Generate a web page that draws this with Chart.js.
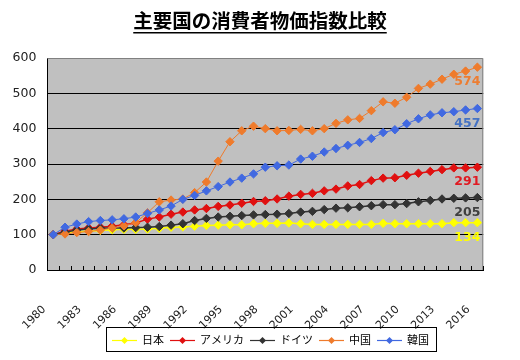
<!DOCTYPE html>
<html>
<head>
<meta charset="utf-8">
<script src="https://cdn.jsdelivr.net/npm/chart.js@4.4.1/dist/chart.umd.min.js"></script>
<style>
  html, body { margin: 0; padding: 0; background: #fff; }
</style>
</head>
<body>
<canvas id="chart" width="520" height="360"></canvas>
<script>
const years = ["1980","1981","1982","1983","1984","1985","1986","1987","1988","1989",
  "1990","1991","1992","1993","1994","1995","1996","1997","1998","1999",
  "2000","2001","2002","2003","2004","2005","2006","2007","2008","2009",
  "2010","2011","2012","2013","2014","2015","2016"];

const japan   = [100,105,108,110,112,114,115,115,116,118,121,122,124,126,127,128,128,131,132,132,
                 133,131,129,129,129,129,129,129,132,131,131,131,131,131,134,134,134];
const usa     = [100,110,116,119,121,124,128,133,144,150,158,164,170,174,180,184,189,194,196,201,
                 209,214,217,224,229,238,242,253,260,261,268,274,279,284,289,289,291];
const germany = [100,107,113,116,118,119,119,120,121,123,127,131,140,146,150,152,154,156,157,158,
                 160,164,166,171,175,176,179,182,185,185,188,193,197,201,203,204,205];
const china   = [100,102,106,109,113,119,125,134,162,193,198,201,219,249,308,363,394,407,400,394,
                 395,398,394,400,415,425,429,451,476,472,489,514,526,540,554,563,574];
const korea   = [100,121,130,137,140,142,145,150,160,170,181,200,211,224,236,249,260,272,291,295,
                 297,314,322,334,344,353,361,372,389,397,414,428,439,445,448,453,457];

const seriesNames = ["日本", "アメリカ", "ドイツ", "中国", "韓国"];
const yTicks = [0, 100, 200, 300, 400, 500, 600];

const colors = ["#ffff00", "#e01010", "#333333", "#ef7b2c", "#4169e1"];
const labelColors = ["#ffff00", "#e01a22", "#404040", "#ed7d31", "#4472c4"];

function makeSet(i, data, width) {
  return {
    label: seriesNames[i],
    data: data,
    borderColor: colors[i],
    backgroundColor: colors[i],
    borderWidth: width,
    pointStyle: "rectRot",
    pointRadius: 4.2,
    pointBorderWidth: 1,
    pointBorderColor: colors[i],
    pointBackgroundColor: colors[i],
    tension: 0,
    order: 5 - i
  };
}

// 灰色の背景とプロット枠
const plotBg = {
  id: "plotBg",
  beforeDraw(chart) {
    const a = chart.chartArea, ctx = chart.ctx;
    ctx.save();
    ctx.fillStyle = "#c0c0c0";
    ctx.fillRect(a.left, a.top, a.right - a.left, a.bottom - a.top);
    ctx.restore();
  },
  afterDraw(chart) {
    const a = chart.chartArea, ctx = chart.ctx;
    const x = chart.scales.x;
    ctx.save();
    ctx.strokeStyle = "#808080";
    ctx.lineWidth = 1;
    ctx.beginPath();
    ctx.moveTo(a.left, a.top + 0.5);
    ctx.lineTo(a.right - 0.5, a.top + 0.5);
    ctx.lineTo(a.right - 0.5, a.bottom);
    ctx.stroke();
    // 内向きの目盛り
    ctx.strokeStyle = "#000";
    ctx.beginPath();
    const half = (x.getPixelForValue(1) - x.getPixelForValue(0)) / 2;
    for (let i = 0; i <= years.length; i++) {
      const px = Math.round(x.getPixelForValue(i) - half) + 0.5;
      ctx.moveTo(px, a.bottom);
      ctx.lineTo(px, a.bottom - 4);
    }
    ctx.stroke();
    ctx.restore();
  }
};

// タイトル（下線付き）
const titlePlugin = {
  id: "titleU",
  afterDraw(chart) {
    const ctx = chart.ctx;
    const text = "主要国の消費者物価指数比較";
    ctx.save();
    ctx.font = "bold 19.5px 'Noto Sans CJK JP'";
    ctx.fillStyle = "#000";
    ctx.textAlign = "center";
    ctx.textBaseline = "middle";
    ctx.fillText(text, 260, 21);
    const w = ctx.measureText(text).width;
    ctx.fillRect(260 - w / 2, 32, w, 1.5);
    ctx.restore();
  }
};

// 最終値のラベル
const endLabels = {
  id: "endLabels",
  afterDatasetsDraw(chart) {
    const ctx = chart.ctx;
    ctx.save();
    ctx.font = "bold 12.5px 'DejaVu Sans'";
    ctx.textAlign = "right";
    ctx.textBaseline = "middle";
    chart.data.datasets.forEach((ds, i) => {
      const meta = chart.getDatasetMeta(i);
      const pt = meta.data[meta.data.length - 1];
      ctx.fillStyle = labelColors[i];
      ctx.fillText(String(ds.data[ds.data.length - 1]), pt.x + 3, pt.y + 15);
    });
    ctx.restore();
  }
};

// 枠付き凡例
const boxLegend = {
  id: "boxLegend",
  afterDraw(chart) {
    const ctx = chart.ctx;
    ctx.save();
    ctx.font = "11px 'Noto Sans CJK JP'";
    ctx.textBaseline = "middle";
    const cy = 340;
    let x = 112;
    chart.data.datasets.forEach((ds, i) => {
      ctx.strokeStyle = colors[i];
      ctx.fillStyle = colors[i];
      ctx.lineWidth = 1.2;
      ctx.beginPath();
      ctx.moveTo(x, cy + 0.5);
      ctx.lineTo(x + 25, cy + 0.5);
      ctx.stroke();
      ctx.beginPath();
      ctx.moveTo(x + 12.5 - 3.5, cy + 0.5);
      ctx.lineTo(x + 12.5, cy - 3);
      ctx.lineTo(x + 12.5 + 3.5, cy + 0.5);
      ctx.lineTo(x + 12.5, cy + 4);
      ctx.closePath();
      ctx.fill();
      x += 30;
      ctx.fillStyle = "#000";
      ctx.fillText(ds.label, x, cy);
      x += ctx.measureText(ds.label).width + 6;
    });
    ctx.strokeStyle = "#000";
    ctx.lineWidth = 1;
    ctx.strokeRect(106.5, 327.5, x - 106 + 1, 24);
    ctx.restore();
  }
};

new Chart(document.getElementById("chart").getContext("2d"), {
  type: "line",
  data: {
    labels: years,
    datasets: [
      makeSet(0, japan, 1.5),
      makeSet(1, usa, 1.5),
      makeSet(2, germany, 1.5),
      makeSet(3, china, 1),
      makeSet(4, korea, 1)
    ]
  },
  options: {
    responsive: false,
    animation: false,
    layout: { padding: { left: 0, right: 25, top: 58, bottom: 0 } },
    scales: {
      x: {
        offset: true,
        afterFit(scale) { scale.height = 90; },
        grid: { display: false, drawTicks: false },
        border: { display: true, color: "#000", width: 1 },
        ticks: {
          autoSkip: false,
          minRotation: 45,
          maxRotation: 45,
          padding: 33,
          labelOffset: -9,
          color: "#222",
          font: { family: "DejaVu Sans", size: 11 },
          callback(value, index) {
            return index % 3 === 0 ? years[index] : "";
          }
        }
      },
      y: {
        min: 0,
        max: 600,
        afterFit(scale) { scale.width = 45; },
        afterBuildTicks(scale) { scale.ticks = yTicks.map(v => ({ value: v })); },
        grid: {
          drawTicks: false,
          color(ctx) { return ctx.tick && (ctx.tick.value === 600 || ctx.tick.value === 0) ? "rgba(0,0,0,0)" : "#000"; },
          lineWidth: 1
        },
        border: { display: true, color: "#000", width: 1 },
        ticks: {
          padding: 11,
          color: "#222",
          font: { family: "DejaVu Sans", size: 12.5 }
        }
      }
    },
    plugins: {
      legend: { display: false },
      title: { display: false },
      tooltip: { enabled: false }
    }
  },
  plugins: [plotBg, titlePlugin, endLabels, boxLegend]
});
</script>
</body>
</html>
